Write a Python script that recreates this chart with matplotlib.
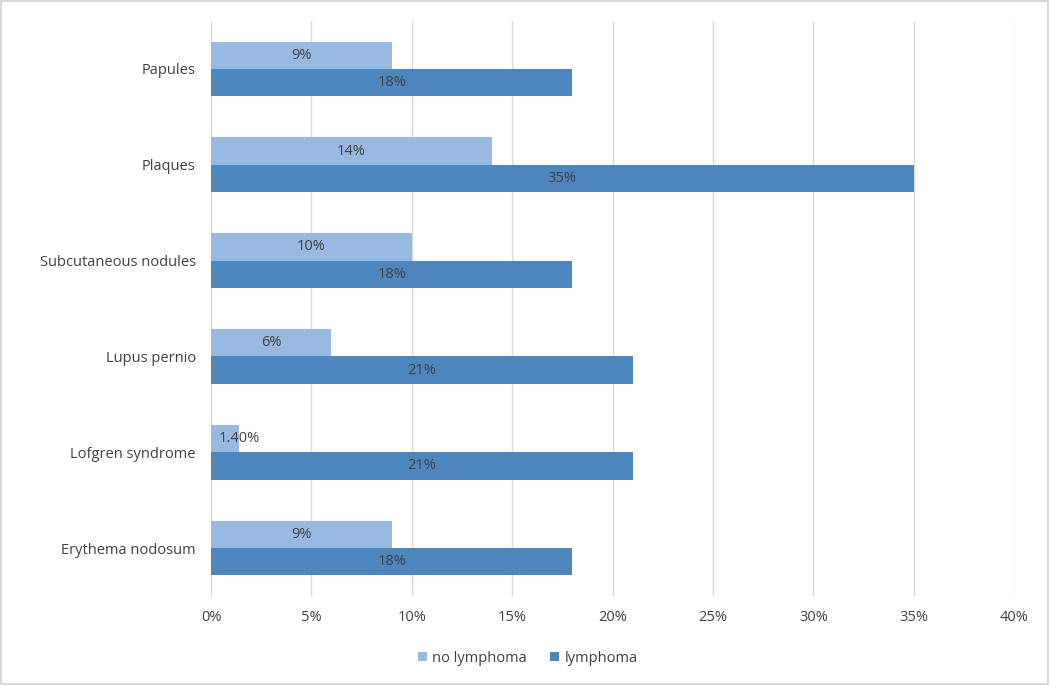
import matplotlib
matplotlib.use("Agg")
import matplotlib.pyplot as plt
import numpy as np
from matplotlib.patches import Rectangle

categories = ["Erythema nodosum", "Lofgren syndrome", "Lupus pernio",
              "Subcutaneous nodules", "Plaques", "Papules"]
no_lymphoma = [9, 1.4, 6, 10, 14, 9]
lymphoma = [18, 21, 21, 18, 35, 18]
no_lymphoma_labels = ["9%", "1.40%", "6%", "10%", "14%", "9%"]
lymphoma_labels = ["18%", "21%", "21%", "18%", "35%", "18%"]
xticks = [0, 5, 10, 15, 20, 25, 30, 35, 40]
xticklabels = ["0%", "5%", "10%", "15%", "20%", "25%", "30%", "35%", "40%"]

plt.rcParams['font.family'] = ['Open Sans', 'DejaVu Sans']
light = "#98B9E0"
dark = "#4C86BC"
txt = "#404040"
fs = 10.5

fig = plt.figure(figsize=(10.5, 6.85), dpi=100)
ax = fig.add_axes([211/1050, 1-596/685, (1014-211)/1050, (596-21)/685])

y = np.arange(len(categories))
h = 0.285
b1 = ax.barh(y + h/2, no_lymphoma, height=h, color=light, zorder=3)
b2 = ax.barh(y - h/2, lymphoma, height=h, color=dark, zorder=3)

for bar, lab in zip(b1, no_lymphoma_labels):
    cx = bar.get_x() + bar.get_width()/2
    if bar.get_width() < 3:
        cx = 1.4
    ax.text(cx, bar.get_y() + bar.get_height()/2, lab, ha="center", va="center",
            fontsize=fs, color=txt, zorder=4)
for bar, lab in zip(b2, lymphoma_labels):
    ax.text(bar.get_x() + bar.get_width()/2, bar.get_y() + bar.get_height()/2, lab,
            ha="center", va="center", fontsize=fs, color=txt, zorder=4)

ax.set_xlim(0, 40)
ax.set_ylim(-0.5, len(categories) - 0.5)
ax.set_xticks(xticks)
ax.set_xticklabels(xticklabels, color=txt, fontsize=fs)
ax.set_yticks(y)
ax.set_yticklabels(categories, color=txt, fontsize=fs)
ax.tick_params(axis="both", length=0)
ax.tick_params(axis="x", pad=10)
ax.tick_params(axis="y", pad=11)
ax.grid(axis="x", color="#D9D9D9", linewidth=1, zorder=0)
for s in ax.spines.values():
    s.set_visible(False)

leg = fig.legend([b1, b2], ["no lymphoma", "lymphoma"], loc="center",
                 bbox_to_anchor=(528/1050, 1-658/685), ncol=2, frameon=False,
                 fontsize=fs, handlelength=0.6, handleheight=0.6, handletextpad=0.4,
                 columnspacing=1.6)
for t in leg.get_texts():
    t.set_color(txt)

fig.patches.append(Rectangle((0.001, 0.001), 0.997, 0.997, transform=fig.transFigure,
                             fill=False, edgecolor="#D9D9D9", linewidth=1.5))

fig.savefig("out.png", dpi=100, facecolor="white")
